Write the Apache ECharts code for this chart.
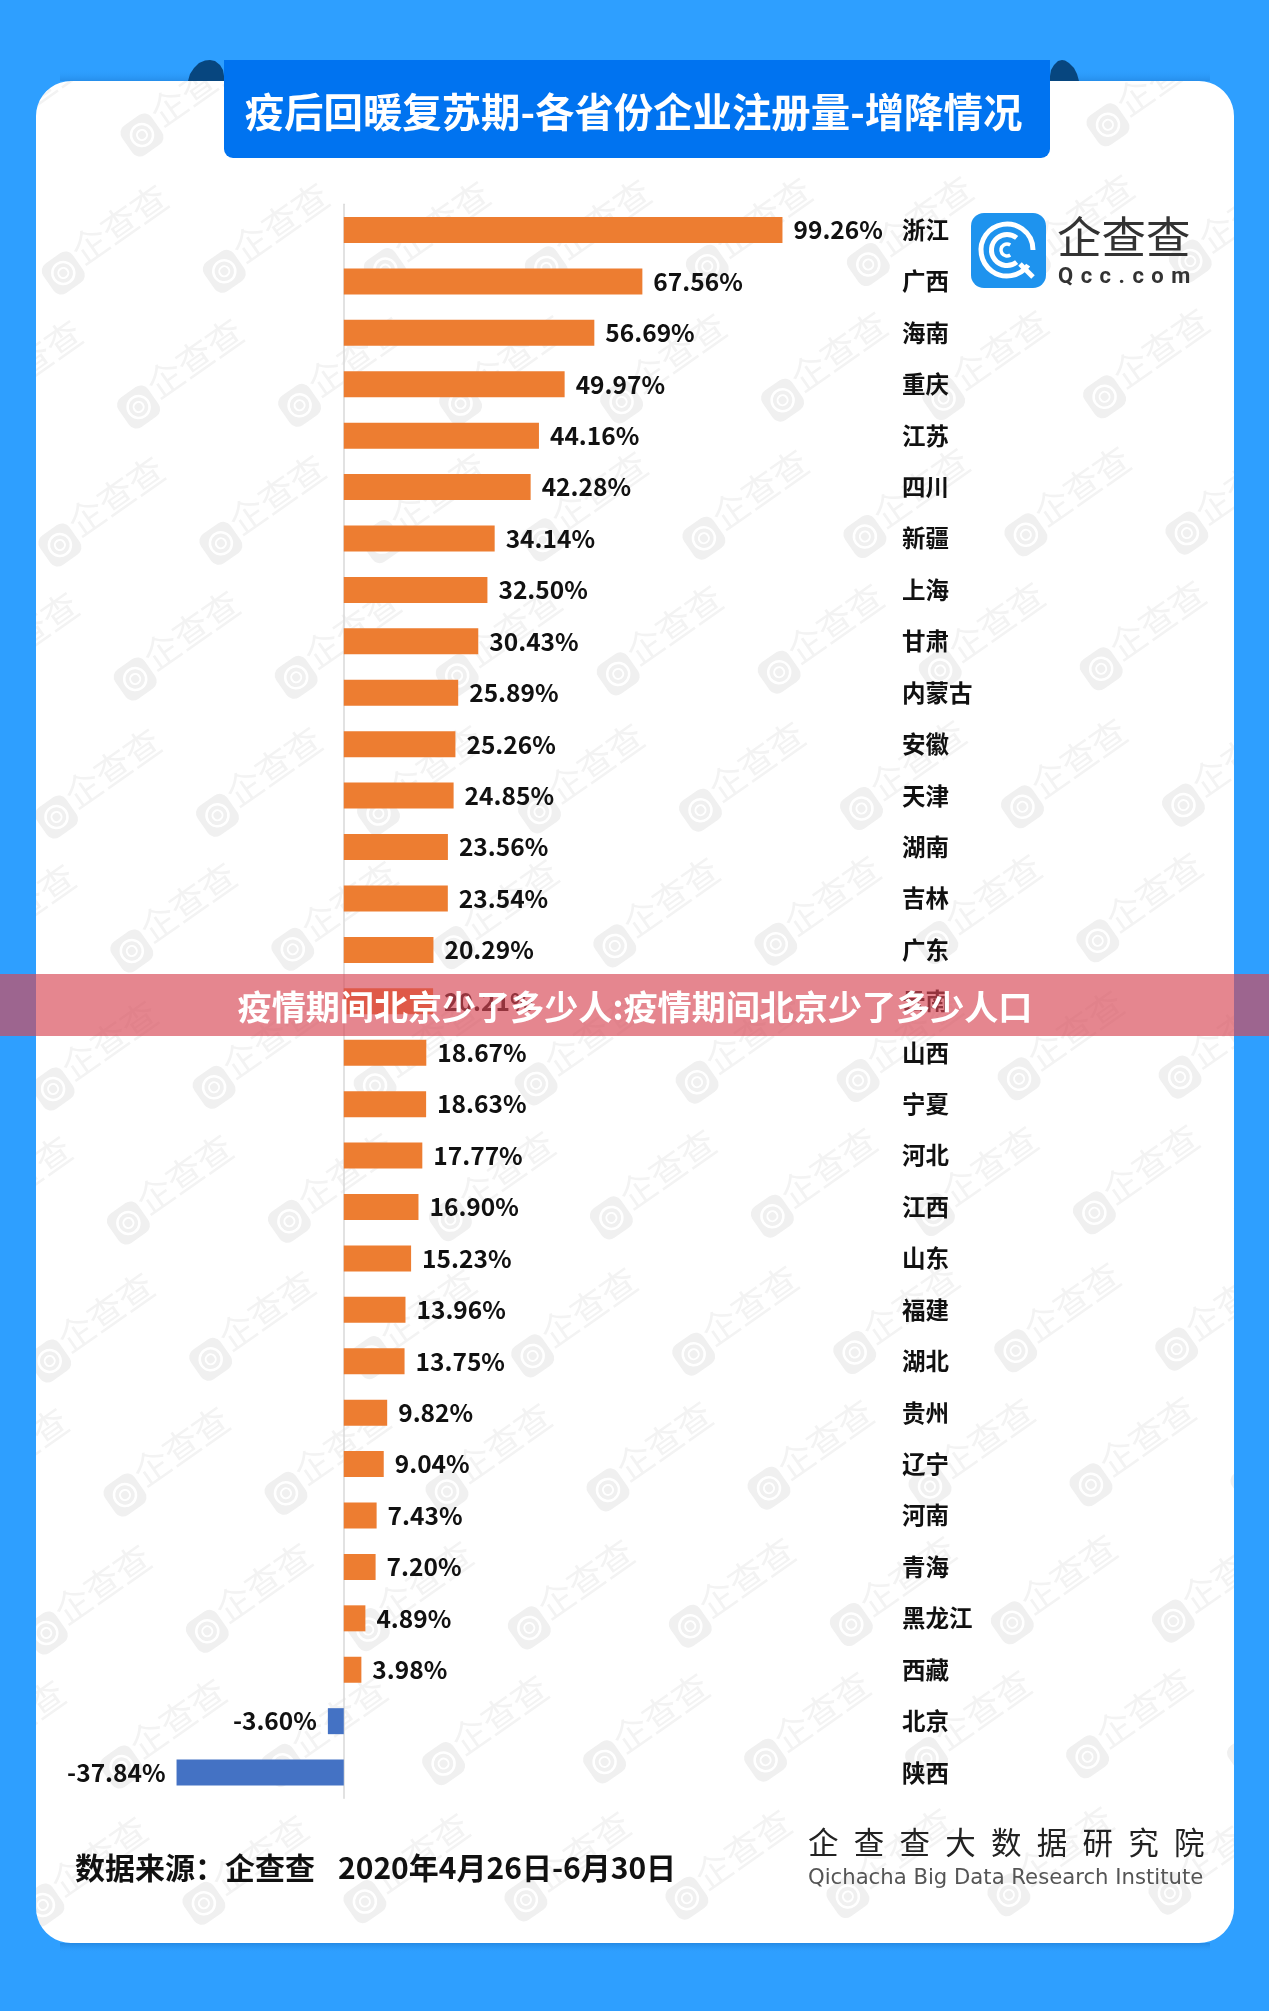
<!DOCTYPE html>
<html><head><meta charset="utf-8">
<style>html,body{margin:0;padding:0;background:#2E9FFF}#c{width:1269px;height:2011px}</style>
<script src="https://cdn.jsdelivr.net/npm/echarts@6/dist/echarts.min.js"></script>
</head><body><div id="c"></div>
<script>
const provinces = ['浙江','广西','海南','重庆','江苏','四川','新疆','上海','甘肃','内蒙古','安徽','天津','湖南','吉林','广东','云南','山西','宁夏','河北','江西','山东','福建','湖北','贵州','辽宁','河南','青海','黑龙江','西藏','北京','陕西'];
const growth = [99.26,67.56,56.69,49.97,44.16,42.28,34.14,32.50,30.43,25.89,25.26,24.85,23.56,23.54,20.29,20.21,18.67,18.63,17.77,16.90,15.23,13.96,13.75,9.82,9.04,7.43,7.20,4.89,3.98,-3.60,-37.84];
const titleText = '疫后回暖复苏期-各省份企业注册量-增降情况';
const bandText = '疫情期间北京少了多少人:疫情期间北京少了多少人口';
const sourceText = '数据来源：企查查';
const dateText = '2020年4月26日-6月30日';
const instituteCn = '企\u2002查\u2002查\u2002大\u2002数\u2002据\u2002研\u2002究\u2002院';
const instituteEn = 'Qichacha Big Data Research Institute';

const CJK = '"Noto Sans CJK SC","Noto Sans",sans-serif';
const elements = [];
// card
elements.push({type:'rect',z:-10,shape:{x:30,y:75,width:1210,height:1875,r:40},style:{fill:'#fff'}});
// watermarks
const rad = 35*Math.PI/180;
for (let i=0;i<14;i++){
  for (let k=-1;k<9;k++){
    const x = 142 - 1.7*i - (i%2?77:0) + 161*k;
    const y = 135 + 136*i + (i%2?2:0) - 1.7*k;
    elements.push({type:'group',x,y,rotation:rad,children:[
      {type:'rect',z:-9,shape:{x:-18,y:-18,width:36,height:36,r:9},style:{fill:'#F0F0F0'}},
      {type:'circle',z:-9,shape:{cx:0,cy:0,r:11},style:{fill:'none',stroke:'#fff',lineWidth:2.5}},
      {type:'circle',z:-9,shape:{cx:0,cy:0,r:5},style:{fill:'none',stroke:'#fff',lineWidth:2}},
      {type:'text',z:-9,x:74,y:-8,style:{text:'企查查',fill:'#F3F3F3',font:'36px '+CJK,textAlign:'center',textVerticalAlign:'middle'}}
    ]});
  }
}
// frame with rounded hole (keyhole polygon), hides watermarks outside the card
function roundedHole(l,t,r,b,rad){
  const pts=[]; const n=10;
  pts.push([l,t+rad]);
  const arc=(cx,cy,a0,a1)=>{for(let i=0;i<=n;i++){const a=a0+(a1-a0)*i/n;pts.push([cx+rad*Math.cos(a),cy+rad*Math.sin(a)]);}};
  arc(l+rad,b-rad,Math.PI,Math.PI/2);
  arc(r-rad,b-rad,Math.PI/2,0);
  arc(r-rad,t+rad,0,-Math.PI/2);
  arc(l+rad,t+rad,-Math.PI/2,-Math.PI);
  return pts;
}
const framePts=[[0,0],[1269,0],[1269,2011],[0,2011],[0,116]].concat(roundedHole(36,81,1234,1943,35)).concat([[36,116],[0,116]]);
elements.push({type:'polygon',z:-8,shape:{points:framePts},style:{fill:'#2E9FFF'}});
// soft shadow below and above the card
elements.push({type:'rect',z:-7,shape:{x:60,y:1943,width:1150,height:10},style:{fill:{type:'linear',x:0,y:0,x2:0,y2:1,colorStops:[{offset:0,color:'rgba(10,80,160,.28)'},{offset:1,color:'rgba(46,159,255,0)'}]}}});
elements.push({type:'rect',z:-7,shape:{x:60,y:69,width:1150,height:12},style:{fill:{type:'linear',x:0,y:0,x2:0,y2:1,colorStops:[{offset:0,color:'rgba(46,159,255,0)'},{offset:1,color:'rgba(10,80,160,.22)'}]}}});
// ribbon
const foldL=[[188,81],[190,74],[194,68],[199,63],[205,60.5],[210,60],[215,61],[220,65],[223,70],[224,76],[224,81]];
const foldR=[[1079,81],[1077,74],[1074,68],[1069,63],[1065,60.5],[1062,60],[1058,61],[1054,65],[1051,70],[1050,76],[1050,81]];
elements.push({type:'polygon',z:5,shape:{points:foldL},style:{fill:'#07467F'}});
elements.push({type:'polygon',z:5,shape:{points:foldR},style:{fill:'#07467F'}});
elements.push({type:'rect',z:6,shape:{x:224,y:60,width:826,height:98,r:[0,0,9,9]},style:{fill:'#0073F0'}});
elements.push({type:'text',z:7,x:633.5,y:112,style:{text:titleText,fill:'#fff',font:'bold 39.4px '+CJK,textAlign:'center',textVerticalAlign:'middle'}});
// logo
elements.push({type:'rect',z:6,shape:{x:971,y:213,width:75,height:75,r:13},style:{fill:'#1E93EE'}});
elements.push({type:'arc',z:7,shape:{cx:1007,cy:250,r:26,startAngle:0.62,endAngle:Math.PI*2,clockwise:true},style:{fill:'none',stroke:'#fff',lineWidth:5}});
elements.push({type:'arc',z:7,shape:{cx:1007,cy:250,r:15.5,startAngle:0.9,endAngle:Math.PI*2-0.9,clockwise:true},style:{fill:'none',stroke:'#fff',lineWidth:5}});
elements.push({type:'arc',z:7,shape:{cx:1007,cy:250,r:6,startAngle:1,endAngle:Math.PI*2-1,clockwise:true},style:{fill:'none',stroke:'#fff',lineWidth:3.5}});
elements.push({type:'line',z:7,shape:{x1:1020,y1:264,x2:1033,y2:277},style:{stroke:'#fff',lineWidth:5}});
elements.push({type:'text',z:7,x:1057,y:237,style:{text:'企查查',fill:'#333',font:'44.5px '+CJK,textAlign:'left',textVerticalAlign:'middle'}});
elements.push({type:'text',z:7,x:1058,y:277,style:{text:'Q\u2004c\u2004c\u2004.\u2004c\u2004o\u2004m',fill:'#333',font:'bold 22px Roboto,sans-serif',textAlign:'left',textVerticalAlign:'middle'}});
// footer
elements.push({type:'text',z:7,x:75,y:1868,style:{text:sourceText,fill:'#111',font:'bold 30px '+CJK,textAlign:'left',textVerticalAlign:'middle'}});
elements.push({type:'text',z:7,x:338,y:1868,style:{text:dateText,fill:'#111',font:'bold 30px '+CJK,textAlign:'left',textVerticalAlign:'middle'}});
elements.push({type:'text',z:7,x:808,y:1842,style:{text:instituteCn,fill:'#222',font:'30.5px '+CJK,textAlign:'left',textVerticalAlign:'middle'}});
elements.push({type:'text',z:7,x:808,y:1878,style:{text:instituteEn,fill:'#555',font:'21.2px "DejaVu Sans",sans-serif',textAlign:'left',textVerticalAlign:'middle'}});
// overlay band
elements.push({type:'rect',z:50,shape:{x:0,y:974,width:1269,height:62},style:{fill:'rgba(216,72,85,.66)'}});
elements.push({type:'text',z:51,x:635,y:1007,style:{text:bandText,fill:'#fff',font:'bold 34.1px '+CJK,textAlign:'center',textVerticalAlign:'middle'}});

const chart = echarts.init(document.getElementById('c'),null,{renderer:'canvas'});
chart.setOption({
  animation:false,
  backgroundColor:'#2E9FFF',
  grid:{left:167,top:204.3,width:731,height:1594,containLabel:false},
  xAxis:{type:'value',min:-40,max:125.4,show:false,splitLine:{show:false}},
  yAxis:[
    {type:'category',data:provinces,inverse:true,axisTick:{show:false},axisLabel:{show:false},
     axisLine:{show:true,onZero:true,lineStyle:{color:'#D9D9D9',width:1.5}}},
    {type:'category',data:provinces,inverse:true,position:'right',axisTick:{show:false},axisLine:{show:false},
     axisLabel:{show:true,color:'#111',fontFamily:CJK,fontSize:23.5,fontWeight:'bold',align:'left',margin:4,padding:[0,0,4,0]}}
  ],
  graphic:{elements},
  series:[{
    type:'bar',yAxisIndex:0,barWidth:26,z:3,
    data:growth.map(v=>({value:v,
      itemStyle:{color:v<0?'#4472C4':'#ED7D31'},
      label:{position:v<0?'left':'right'}})),
    label:{show:true,distance:11,color:'#111',fontFamily:CJK,fontSize:24.5,fontWeight:'bold',
      formatter:p=>p.value.toFixed(2)+'%'}
  }]
});
</script></body></html>
